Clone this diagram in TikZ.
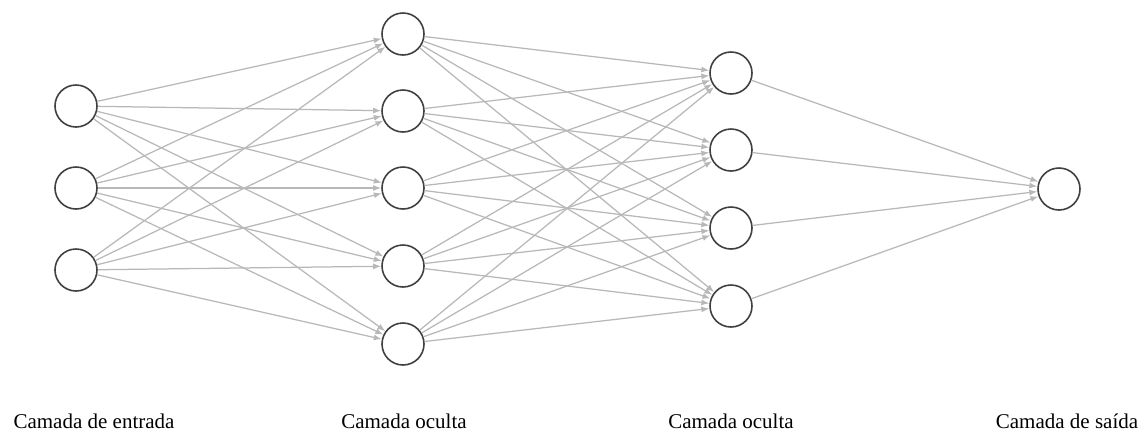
\documentclass[tikz,border=0pt]{standalone}
\usepackage{fontspec}
\setmainfont{Liberation Serif}
\usetikzlibrary{arrows.meta}
\definecolor{edgegray}{HTML}{B8B8B8}
\definecolor{ringgray}{HTML}{404040}
\begin{document}
\begin{tikzpicture}[x=1pt,y=-1pt,
  neuron/.style={circle,draw=ringgray,line width=1.6pt,fill=white,minimum size=42pt,inner sep=0pt},
  conn/.style={draw=edgegray,line width=1.25pt,-{Latex[length=8pt,width=6pt]}},
  layerlabel/.style={font=\fontsize{21}{24}\selectfont,anchor=base,inner sep=0pt}]
\useasboundingbox (0,0) rectangle (1146,432);
% input layer
\node[neuron] (i1) at (76,106) {};
\node[neuron] (i2) at (76,188) {};
\node[neuron] (i3) at (76,270) {};
% hidden layer 1
\node[neuron] (a1) at (403,34) {};
\node[neuron] (a2) at (403,111) {};
\node[neuron] (a3) at (403,188) {};
\node[neuron] (a4) at (403,266) {};
\node[neuron] (a5) at (403,344) {};
% hidden layer 2
\node[neuron] (b1) at (731,73) {};
\node[neuron] (b2) at (731,150) {};
\node[neuron] (b3) at (731,228) {};
\node[neuron] (b4) at (731,306) {};
% output
\node[neuron] (o1) at (1059,189) {};
% connections
\foreach \s in {i1,i2,i3}{\foreach \t in {a1,a2,a3,a4,a5}{\path[conn] (\s) -- (\t);}}
\foreach \s in {a1,a2,a3,a4,a5}{\foreach \t in {b1,b2,b3,b4}{\path[conn] (\s) -- (\t);}}
\foreach \s in {b1,b2,b3,b4}{\path[conn] (\s) -- (o1);}
% labels
\node[layerlabel] (l1) at (94,428) {Camada de entrada};
\node[layerlabel] (l2) at (404,428) {Camada oculta};
\node[layerlabel] (l3) at (731,428) {Camada oculta};
\node[layerlabel] (l4) at (1067,428) {Camada de saída};
\end{tikzpicture}
\end{document}
